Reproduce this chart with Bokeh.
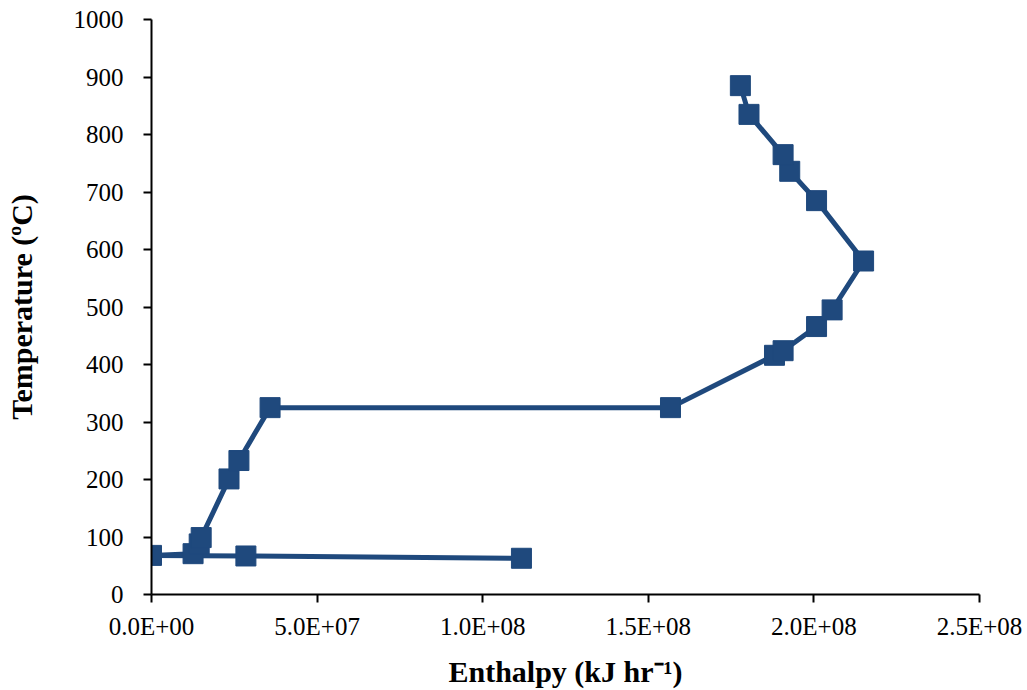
from bokeh.plotting import figure
from bokeh.models import FixedTicker
from bokeh.embed import file_html
from bokeh.resources import INLINE

# Enthalpy (kJ/hr) and temperature (C), in path order
enthalpy = [1.117e8, 2.85e7, 0.0, 1.255e7, 1.44e7, 1.50e7, 2.34e7, 2.64e7, 3.58e7,
            1.567e8, 1.881e8, 1.907e8, 2.008e8, 2.055e8, 2.150e8, 2.008e8, 1.927e8,
            1.907e8, 1.804e8, 1.778e8]
temperature = [63, 67, 68, 71, 88, 99, 201, 233, 325,
               325, 416, 424, 466, 495, 580, 685, 736,
               765, 835, 885]

x_ticks = [0, 5e7, 1e8, 1.5e8, 2e8, 2.5e8]
x_tick_labels = ["0.0E+00", "5.0E+07", "1.0E+08", "1.5E+08", "2.0E+08", "2.5E+08"]
y_ticks = [0, 100, 200, 300, 400, 500, 600, 700, 800, 900, 1000]

color = "#1F497D"
font = "Liberation Serif"

p = figure(width=1027, height=690, output_backend="svg", toolbar_location=None,
           x_range=(0, 2.5e8), y_range=(0, 1000),
           min_border_left=151, min_border_right=48, min_border_top=19, min_border_bottom=96)
p.outline_line_color = None
p.xgrid.visible = False
p.ygrid.visible = False

p.line(enthalpy, temperature, line_color=color, line_width=5)
p.scatter(enthalpy, temperature, marker="square", size=20, fill_color=color, line_color=color)

for ax in (p.xaxis, p.yaxis):
    ax.axis_line_color = "black"
    ax.axis_line_width = 2
    ax.major_tick_line_color = "black"
    ax.major_tick_line_width = 2
    ax.major_tick_out = 8
    ax.major_tick_in = 0
    ax.minor_tick_line_color = None
    ax.major_label_text_font = font
    ax.major_label_text_font_size = "25px"
    ax.major_label_text_color = "black"
    ax.axis_label_text_font = font
    ax.axis_label_text_font_size = "30px"
    ax.axis_label_text_font_style = "bold"
    ax.axis_label_text_color = "black"

p.xaxis.ticker = FixedTicker(ticks=x_ticks)
p.xaxis.major_label_overrides = {t: l for t, l in zip(x_ticks, x_tick_labels)}
p.xaxis.major_label_standoff = 10
p.xaxis.axis_label = "Enthalpy (kJ hr⁻¹)"
p.xaxis.axis_label_standoff = 12

p.yaxis.ticker = FixedTicker(ticks=y_ticks)
p.yaxis.major_label_standoff = 20
p.yaxis.axis_label = "Temperature (ºC)"
p.yaxis.axis_label_standoff = 33

open("out.html", "w").write(file_html(p, INLINE))
